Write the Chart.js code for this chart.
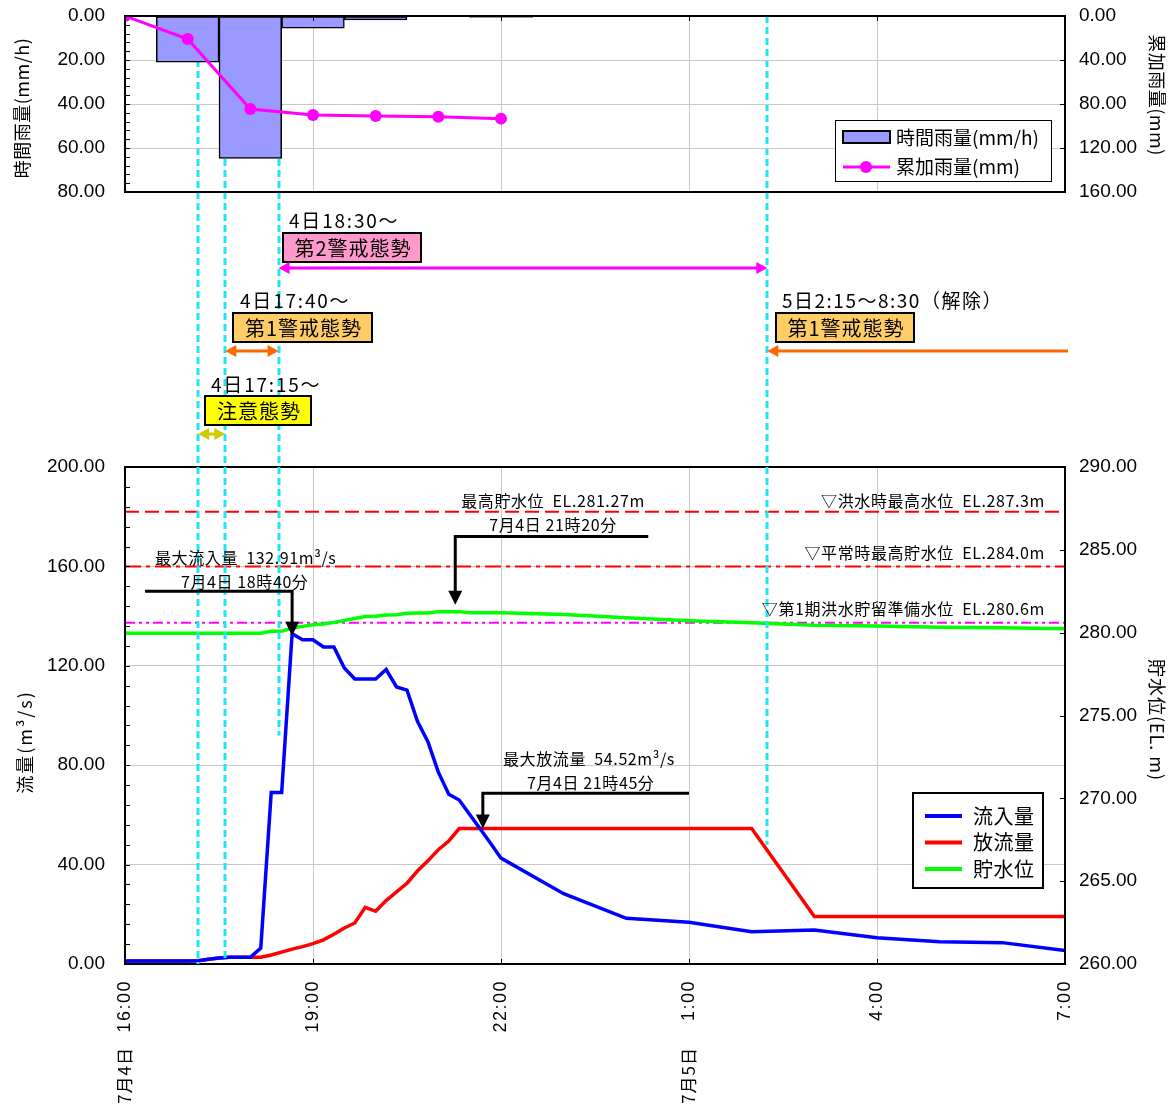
<!DOCTYPE html>
<html lang="ja">
<head>
<meta charset="utf-8">
<title>雨量・流量・貯水位</title>
<script src="https://cdn.jsdelivr.net/npm/chart.js@4.4.1/dist/chart.umd.min.js"></script>
<style>
  html, body { margin: 0; padding: 0; background: #fff; }
  #wrap { position: relative; width: 1174px; height: 1107px; }
  canvas { position: absolute; left: 0; top: 0; }
  #rainChart { z-index: 2; }
</style>
</head>
<body>
<div id="wrap">
  <canvas id="flowChart" width="1174" height="1107"></canvas>
  <canvas id="rainChart" width="1174" height="220"></canvas>
</div>
<script>
// rainfall (top chart)
const rainHours = ['17:00', '18:00', '19:00', '20:00', '21:00', '22:00'];
const hourlyRain = [21, 64.7, 5.5, 1.8, null, 0.6];
const cumHours = ['16:00', '17:00', '18:00', '19:00', '20:00', '21:00', '22:00'];
const cumulativeRain = [0, 21, 84.5, 90, 91, 91.5, 93.3];

// flow / water level (bottom chart): 10 minute data until 22:00, hourly after
const flowTimes = [
    '16:00', '16:10', '16:20', '16:30', '16:40', '16:50',
    '17:00', '17:10', '17:20', '17:30', '17:40', '17:50',
    '18:00', '18:10', '18:20', '18:30', '18:40', '18:50',
    '19:00', '19:10', '19:20', '19:30', '19:40', '19:50',
    '20:00', '20:10', '20:20', '20:30', '20:40', '20:50',
    '21:00', '21:10', '21:20', '21:30', '21:40', '21:50',
    '22:00', '23:00', '0:00', '1:00', '2:00', '3:00', '4:00', '5:00', '6:00', '7:00'
];
const inflow = [
    1.2, 1.2, 1.2, 1.2, 1.2, 1.2,
    1.2, 1.3, 1.9, 2.4, 2.7, 2.7,
    2.7, 6.4, 69, 69, 132.91, 130.5,
    130.5, 127.6, 127.6, 119.1, 114.7, 114.7,
    114.7, 118.5, 111.5, 110.2, 97.7, 89.5,
    77.2, 68.3, 66, 60.2, 54.4, 48.6,
    42.6, 28.3, 18.4, 16.8, 13, 13.7, 10.6, 9.0, 8.6, 5.4
];
const outflow = [
    1.2, 1.2, 1.2, 1.2, 1.2, 1.2,
    1.2, 1.3, 1.9, 2.4, 2.7, 2.7,
    2.7, 2.7, 3.6, 4.8, 6.0, 7.0,
    8.2, 9.7, 12.0, 14.5, 16.5, 22.8,
    21.2, 25.5, 29.0, 32.5, 37.4, 41.5,
    46.0, 49.5, 54.52, 54.52, 54.52, 54.52,
    54.52, 54.52, 54.52, 54.52, 54.52, 19.1, 19.1, 19.1, 19.1, 19.1
];
const waterLevel = [
    279.97, 279.97, 279.97, 279.97, 279.97, 279.97,
    279.97, 279.97, 279.97, 279.97, 279.97, 279.97,
    279.97, 279.97, 280.08, 280.08, 280.28, 280.38,
    280.48, 280.52, 280.62, 280.74, 280.86, 280.97,
    280.99, 281.07, 281.08, 281.17, 281.18, 281.19,
    281.27, 281.27, 281.27, 281.2, 281.2, 281.2,
    281.2, 281.1, 280.9, 280.72, 280.6, 280.45, 280.4, 280.32, 280.3, 280.24
];

// reference water levels
const floodHWL = 287.3;
const normalHWL = 284.0;
const floodPrepLevel = 280.6;

// alert lines (where they are drawn) and the bottom end of each (flow value)
const alertLineTimes = ['17:10', '17:36', '18:27', '2:15'];
const alertLineEnds = [0, 2, 92, 48];

// axis labels
const axisTimes = ['16:00', '19:00', '22:00', '1:00', '4:00', '7:00'];
const axisDates = [['16:00', '7月4日'], ['1:00', '7月5日']];

const JP = '"Noto Sans CJK JP", sans-serif';
const NUM = '"Liberation Sans", Arial, sans-serif';
const CYAN = '#1ee6f5';

function toHours(s) {
    const [h, m] = s.split(':').map(Number);
    return (h < 16 ? h + 24 : h) - 16 + m / 60;
}

function pts(times, vals) {
    return times.map((t, i) => ({ x: toHours(t), y: vals[i] }));
}

function seg(ctx, x1, y1, x2, y2) {
    ctx.beginPath();
    ctx.moveTo(x1, y1);
    ctx.lineTo(x2, y2);
    ctx.stroke();
}

function txt(ctx, s, x, y, size, align, spacing) {
    ctx.font = size + 'px ' + JP;
    ctx.fillStyle = '#000';
    ctx.textAlign = align || 'left';
    ctx.textBaseline = 'middle';
    ctx.letterSpacing = (spacing || 0) + 'px';
    ctx.fillText(s, x, y);
    ctx.letterSpacing = '0px';
}

// rotated text, reading bottom to top (-90) or top to bottom (+90)
function rotTxt(ctx, s, x, y, size, angle, align, family, spacing) {
    ctx.save();
    ctx.translate(x, y);
    ctx.rotate(angle);
    ctx.font = size + 'px ' + (family || JP);
    ctx.fillStyle = '#000';
    ctx.textAlign = align || 'center';
    ctx.textBaseline = 'middle';
    ctx.letterSpacing = (spacing || 0) + 'px';
    ctx.fillText(s, 0, 0);
    ctx.restore();
}

function head(ctx, x, y, dir, color) {
    ctx.fillStyle = color;
    ctx.beginPath();
    ctx.moveTo(x, y);
    ctx.lineTo(x - dir * 11, y - 6);
    ctx.lineTo(x - dir * 11, y + 6);
    ctx.closePath();
    ctx.fill();
}

function hArrow(ctx, x1, x2, y, color, both) {
    ctx.strokeStyle = color;
    ctx.lineWidth = 3;
    seg(ctx, x1 + (both ? 6 : 0), y, x2 - 6, y);
    head(ctx, x2, y, 1, color);
    if (both) head(ctx, x1, y, -1, color);
}

// black bent arrow: horizontal bar then down to the tip
function bentArrow(ctx, xFrom, xElbow, yBar, yTip) {
    ctx.strokeStyle = '#000';
    ctx.lineWidth = 3;
    ctx.beginPath();
    ctx.moveTo(xFrom, yBar);
    ctx.lineTo(xElbow, yBar);
    ctx.lineTo(xElbow, yTip - 12);
    ctx.stroke();
    ctx.fillStyle = '#000';
    ctx.beginPath();
    ctx.moveTo(xElbow, yTip);
    ctx.lineTo(xElbow - 7, yTip - 14);
    ctx.lineTo(xElbow + 7, yTip - 14);
    ctx.closePath();
    ctx.fill();
}

function alertBox(ctx, s, x, y, w, fill) {
    ctx.fillStyle = fill;
    ctx.fillRect(x, y, w, 29);
    ctx.strokeStyle = '#000';
    ctx.lineWidth = 2;
    ctx.strokeRect(x, y, w, 29);
    txt(ctx, s, x + w / 2 + 1, y + 15, 20, 'center', 1);
}

const rainOverlay = {
    id: 'rainOverlay',
    afterDatasetsDraw(chart) {
        const { ctx, chartArea: a, scales } = chart;
        ctx.save();
        ctx.strokeStyle = '#000';
        ctx.lineWidth = 1;
        for (let v = 0; v <= 80; v += 4) {
            const py = Math.round(scales.yRain.getPixelForValue(v)) + 0.5;
            seg(ctx, a.left, py, a.left + 5, py);
        }
        for (let v = 40; v < 160; v += 40) {
            const py = Math.round(scales.yCum.getPixelForValue(v)) + 0.5;
            seg(ctx, a.right - 5, py, a.right, py);
        }
        for (let t = 3; t < 15; t += 3) {
            const px = Math.round(scales.x.getPixelForValue(t)) + 0.5;
            seg(ctx, px, a.top, px, a.top + 5);
        }
        ctx.lineWidth = 2;
        ctx.strokeRect(a.left, a.top, a.right - a.left, a.bottom - a.top);

        // legend
        ctx.fillStyle = '#fff';
        ctx.fillRect(835, 120, 216, 61);
        ctx.lineWidth = 1;
        ctx.strokeRect(835.5, 120.5, 216, 61);
        ctx.fillStyle = '#9999ff';
        ctx.fillRect(843, 131, 47, 12);
        ctx.lineWidth = 2;
        ctx.strokeRect(843, 131, 47, 12);
        ctx.strokeStyle = '#ff00ff';
        ctx.lineWidth = 3;
        seg(ctx, 843, 167, 890, 167);
        ctx.fillStyle = '#ff00ff';
        ctx.beginPath();
        ctx.arc(866, 167, 6, 0, Math.PI * 2);
        ctx.fill();
        txt(ctx, '時間雨量(mm/h)', 896, 138, 19);
        txt(ctx, '累加雨量(mm)', 896, 167, 19);

        rotTxt(ctx, '時間雨量(mm/h)', 22, 108, 18, -Math.PI / 2, 'center', JP, 0.5);
        rotTxt(ctx, '累加雨量(mm)', 1157, 95, 18, Math.PI / 2, 'center', JP, 0.5);
        ctx.restore();
    }
};

const flowOverlay = {
    id: 'flowOverlay',
    afterDatasetsDraw(chart) {
        const { ctx, chartArea: a, scales } = chart;
        const x = scales.x, yF = scales.yFlow, yL = scales.yLevel;
        const xp = (t) => x.getPixelForValue(toHours(t));
        ctx.save();

        // frame and small inner ticks
        ctx.strokeStyle = '#000';
        ctx.lineWidth = 1;
        for (let v = 0; v <= 200; v += 8) {
            const py = Math.round(yF.getPixelForValue(v)) + 0.5;
            seg(ctx, a.left, py, a.left + 5, py);
        }
        for (let v = 265; v < 290; v += 5) {
            const py = Math.round(yL.getPixelForValue(v)) + 0.5;
            seg(ctx, a.right - 5, py, a.right, py);
        }
        for (let t = 3; t < 15; t += 3) {
            const px = Math.round(x.getPixelForValue(t)) + 0.5;
            seg(ctx, px, a.bottom - 5, px, a.bottom);
        }
        ctx.lineWidth = 2;
        ctx.strokeRect(a.left, a.top, a.right - a.left, a.bottom - a.top);

        // alert lines
        ctx.strokeStyle = CYAN;
        ctx.lineWidth = 3;
        ctx.setLineDash([7, 4]);
        alertLineTimes.forEach((t, i) => {
            const px = Math.round(xp(t));
            seg(ctx, px, 16, px, yF.getPixelForValue(alertLineEnds[i]));
        });
        ctx.setLineDash([]);

        // alert stages
        const ax = alertLineTimes.map(xp);
        txt(ctx, '4日18:30～', 289, 221, 19, 'left', 1.8);
        alertBox(ctx, '第2警戒態勢', 283, 233, 138, '#ff99cc');
        hArrow(ctx, ax[2], ax[3], 268, '#ff00ff', true);
        txt(ctx, '4日17:40～', 240, 301, 19, 'left', 1.8);
        alertBox(ctx, '第1警戒態勢', 233, 313, 139, '#ffcc66');
        hArrow(ctx, ax[1], ax[2], 351, '#ff6600', true);
        txt(ctx, '5日2:15～8:30（解除）', 782, 301, 19, 'left', 1.5);
        alertBox(ctx, '第1警戒態勢', 776, 313, 138, '#ffcc66');
        ctx.strokeStyle = '#ff6600';
        ctx.lineWidth = 3;
        seg(ctx, ax[3] + 6, 351, 1068, 351);
        head(ctx, ax[3], 351, -1, '#ff6600');
        txt(ctx, '4日17:15～', 211, 385, 19, 'left', 1.8);
        alertBox(ctx, '注意態勢', 205, 396, 106, '#ffff00');
        hArrow(ctx, ax[0], ax[1], 434, '#cccc00', true);

        // reference level labels
        txt(ctx, '▽洪水時最高水位  EL.287.3m', 1045, yL.getPixelForValue(floodHWL) - 11, 16, 'right', 0.6);
        txt(ctx, '▽平常時最高貯水位  EL.284.0m', 1045, yL.getPixelForValue(normalHWL) - 13, 16, 'right', 0.6);
        txt(ctx, '▽第1期洪水貯留準備水位  EL.280.6m', 1045, yL.getPixelForValue(floodPrepLevel) - 14, 16, 'right', 0.6);

        // peak annotations
        txt(ctx, '最高貯水位  EL.281.27m', 553, 501, 16, 'center', 0.6);
        txt(ctx, '7月4日 21時20分', 553, 525, 16, 'center', 0.6);
        bentArrow(ctx, x.getPixelForValue(8.35), x.getPixelForValue(5.27), yF.getPixelForValue(172),
            yL.getPixelForValue(281.27) - 7);
        txt(ctx, '最大流入量  132.91m³/s', 155, 558, 16, 'left', 0.6);
        txt(ctx, '7月4日 18時40分', 181, 582, 16, 'left', 0.6);
        bentArrow(ctx, x.getPixelForValue(0.32), xp('18:40'), yF.getPixelForValue(150),
            yF.getPixelForValue(132.91) + 2);
        txt(ctx, '最大放流量  54.52m³/s', 503, 759, 16, 'left', 0.6);
        txt(ctx, '7月4日 21時45分', 527, 783, 16, 'left', 0.6);
        bentArrow(ctx, x.getPixelForValue(9.0), x.getPixelForValue(5.71), yF.getPixelForValue(68.7),
            yF.getPixelForValue(54.52));

        // legend
        ctx.fillStyle = '#fff';
        ctx.fillRect(913, 793, 130, 95);
        ctx.strokeStyle = '#000';
        ctx.lineWidth = 2;
        ctx.strokeRect(913, 793, 130, 95);
        [['流入量', '#0000ff'], ['放流量', '#ff0000'], ['貯水位', '#00ff00']].forEach(([s, c], i) => {
            const ly = 816 + i * 26.5;
            ctx.strokeStyle = c;
            ctx.lineWidth = 4;
            seg(ctx, 925, ly, 962, ly);
            txt(ctx, s, 973, ly, 20, 'left', 0.5);
        });

        // axis titles
        rotTxt(ctx, '流量(m³/s)', 25, 742, 18, -Math.PI / 2, 'center', JP, 2);
        rotTxt(ctx, '貯水位(EL. m)', 1157, 720, 18, Math.PI / 2, 'center', JP, 1);

        // time / date labels under the axis
        axisTimes.forEach((t) => {
            rotTxt(ctx, t, xp(t), 980, 18, -Math.PI / 2, 'right', NUM, 1.5);
        });
        axisDates.forEach(([t, d]) => {
            rotTxt(ctx, d, xp(t), 1047, 17, -Math.PI / 2, 'right', JP, 1);
        });
        ctx.restore();
    }
};

const tickFont = { family: 'Liberation Sans', size: 19 };
const fixed2 = (v) => Number(v).toFixed(2);
// transparent tick marks keep the labels away from the axis without
// pushing the plot area down
const yGrid = { color: '#c8c8c8', drawTicks: true, tickLength: 16, tickColor: 'transparent' };
const yGridOff = { display: false, drawTicks: true, tickLength: 10, tickColor: 'transparent' };

new Chart(document.getElementById('rainChart'), {
    type: 'bar',
    data: {
        datasets: [
            {
                type: 'line',
                label: '累加雨量(mm)',
                data: pts(cumHours, cumulativeRain),
                yAxisID: 'yCum',
                borderColor: '#ff00ff',
                backgroundColor: '#ff00ff',
                borderWidth: 3,
                pointRadius: 6,
                pointBorderWidth: 0,
                pointBackgroundColor: '#ff00ff',
                order: 0,
            },
            {
                type: 'bar',
                label: '時間雨量(mm/h)',
                data: pts(rainHours, hourlyRain),
                yAxisID: 'yRain',
                backgroundColor: '#9999ff',
                borderColor: '#000',
                borderWidth: 1.5,
                borderSkipped: false,
                barPercentage: 1,
                categoryPercentage: 1,
                order: 1,
            },
        ],
    },
    options: {
        responsive: false,
        animation: false,
        devicePixelRatio: 1,
        layout: { padding: { top: 16, bottom: 28, left: 0, right: 0 } },
        plugins: { legend: { display: false }, tooltip: { enabled: false } },
        scales: {
            x: {
                type: 'linear', min: 0, max: 15, offset: false,
                ticks: { stepSize: 3, display: false },
                grid: { color: '#c8c8c8', drawTicks: false, offset: false },
                border: { display: false },
                afterFit(s) { s.height = 0; },
            },
            yRain: {
                position: 'left', reverse: true, min: 0, max: 80,
                ticks: { stepSize: 20, callback: fixed2, font: tickFont, color: '#000', padding: 4 },
                grid: yGrid,
                border: { color: '#000', width: 2 },
                afterFit(s) { s.width = 125; },
            },
            yCum: {
                position: 'right', reverse: true, min: 0, max: 160,
                ticks: { stepSize: 40, callback: fixed2, font: tickFont, color: '#000', padding: 4 },
                grid: yGridOff,
                border: { color: '#000', width: 2 },
                afterFit(s) { s.width = 109; },
            },
        },
    },
    plugins: [rainOverlay],
});

function refLine(level, color, dash) {
    return {
        data: [{ x: 0, y: level }, { x: 15, y: level }],
        yAxisID: 'yLevel',
        borderColor: color,
        borderWidth: 2,
        borderDash: dash,
        pointRadius: 0,
        order: 10,
    };
}

new Chart(document.getElementById('flowChart'), {
    type: 'line',
    data: {
        datasets: [
            { label: '流入量', data: pts(flowTimes, inflow), yAxisID: 'yFlow', borderColor: '#0000ff', borderWidth: 3.5, pointRadius: 0, order: 1 },
            { label: '放流量', data: pts(flowTimes, outflow), yAxisID: 'yFlow', borderColor: '#ff0000', borderWidth: 3.5, pointRadius: 0, order: 2 },
            { label: '貯水位', data: pts(flowTimes, waterLevel), yAxisID: 'yLevel', borderColor: '#00ff00', borderWidth: 3.5, pointRadius: 0, order: 3 },
            refLine(floodHWL, '#ff0000', [14, 6]),
            refLine(normalHWL, '#ff0000', [16, 5, 4, 5]),
            refLine(floodPrepLevel, '#ff00ff', [10, 4, 3, 4, 3, 4]),
        ],
    },
    options: {
        responsive: false,
        animation: false,
        devicePixelRatio: 1,
        layout: { padding: { top: 467, bottom: 0, left: 0, right: 0 } },
        plugins: { legend: { display: false }, tooltip: { enabled: false } },
        scales: {
            x: {
                type: 'linear', min: 0, max: 15,
                ticks: { stepSize: 3, display: false },
                grid: { color: '#c8c8c8', drawTicks: false },
                border: { color: '#000', width: 2 },
                afterFit(s) { s.height = 143; },
            },
            yFlow: {
                position: 'left', min: 0, max: 200,
                ticks: { stepSize: 40, callback: fixed2, font: tickFont, color: '#000', padding: 4 },
                grid: yGrid,
                border: { color: '#000', width: 2 },
                afterFit(s) { s.width = 125; },
            },
            yLevel: {
                position: 'right', min: 260, max: 290,
                ticks: { stepSize: 5, callback: fixed2, font: tickFont, color: '#000', padding: 4 },
                grid: yGridOff,
                border: { color: '#000', width: 2 },
                afterFit(s) { s.width = 109; },
            },
        },
    },
    plugins: [flowOverlay],
});
</script>
</body>
</html>
